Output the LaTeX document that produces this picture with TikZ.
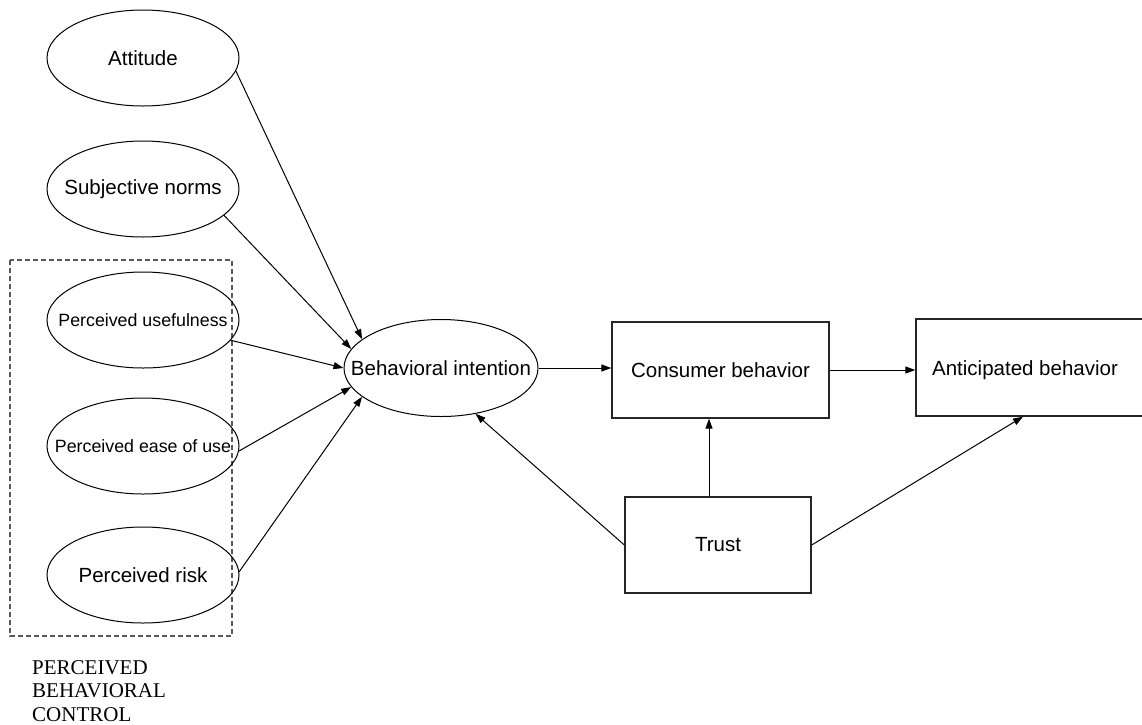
\documentclass[tikz,border=0pt]{standalone}
\usepackage{fontspec}
\setmainfont{Liberation Sans}
\newfontfamily\pbcfont{Liberation Serif}
\usetikzlibrary{shapes.geometric,arrows.meta}
\tikzset{
  oval/.style={ellipse,draw=black,line width=1pt,minimum width=192pt,minimum height=96pt,inner sep=0pt,font=\fontsize{20.5}{24}\selectfont},
  smalloval/.style={oval,font=\fontsize{17.8}{21}\selectfont},
  boxnode/.style={rectangle,draw=black!85,line width=1.3pt,minimum height=96pt,inner sep=0pt,font=\fontsize{20.5}{24}\selectfont},
  arr/.style={-{Triangle[length=10pt,width=7pt]},line width=1pt,black},
  pbc/.style={draw=black!65,line width=1.3pt,dash pattern=on 5pt off 3pt}
}
\begin{document}
\begin{tikzpicture}[x=1pt,y=-1pt]
\useasboundingbox (0,0) rectangle (1142,724);
\fill[white] (0,0) rectangle (1142,724);
% dashed group box
\draw[pbc] (10,260) rectangle (232,636);
% ovals
\node[oval] (att) at (143,58) {\makebox[0pt]{Attitude}};
\node[oval] (sn) at (143,189) {\makebox[0pt]{Subjective norms}};
\node[smalloval] (pu) at (143,320) {\makebox[0pt]{Perceived usefulness}};
\node[smalloval] (pe) at (143,446) {\makebox[0pt]{Perceived ease of use}};
\node[oval] (pr) at (143,575) {\makebox[0pt]{Perceived risk}};
\node[oval,minimum width=194pt,minimum height=97pt] (bi) at (441,368) {\makebox[0pt]{Behavioral intention}};
% boxes
\node[boxnode,minimum width=217pt] (cb) at (720.5,370) {Consumer behavior};
\node[boxnode,minimum width=240pt,minimum height=97pt] (ab) at (1036,367.5) {\rule{0pt}{21pt}Anticipated behavior\kern22pt\relax};
\node[boxnode,minimum width=186pt] (tr) at (718,545) {Trust};
% label
\node[anchor=north west,inner sep=0pt,align=left,font=\pbcfont\fontsize{21}{23.5}\selectfont] (pbclabel) at (32,660) {PERCEIVED\\BEHAVIORAL\\CONTROL};
% arrows
\draw[arr] (att.-8) -- (bi.160);
\draw[arr] (sn.-18) -- (bi.168);
\draw[arr] (pu.-13) -- (bi.180);
\draw[arr] (pe.-3) -- (bi.192);
\draw[arr] (pr.2) -- (bi.200);
\draw[arr] (tr.west) -- (bi.-53);
\draw[arr] (bi.east) -- (bi.east -| cb.west);
\draw[arr] (cb.east) -- (cb.east -| ab.west);
\draw[arr] ([xshift=-9pt]tr.north) -- ([xshift=-9pt]tr.north |- cb.south);
\draw[arr] (tr.east) -- ([xshift=-13pt]ab.south);
\end{tikzpicture}
\end{document}
